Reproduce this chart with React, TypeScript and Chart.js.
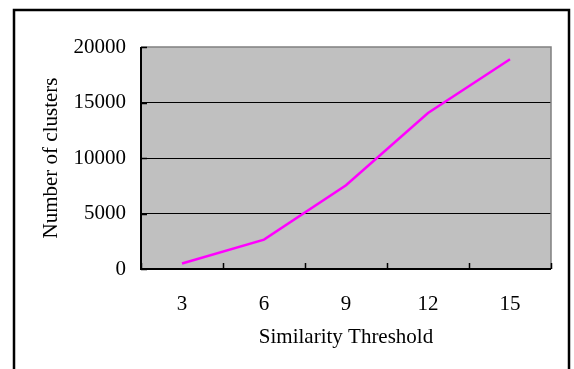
import React, { useEffect, useRef } from "react";
import { Chart, registerables } from "chart.js";

Chart.register(...registerables);

const categories = ["3", "6", "9", "12", "15"];
const clusterCounts = [500, 2650, 7550, 14050, 18900];
const yTicks = [0, 5000, 10000, 15000, 20000];
const xTitle = "Similarity Threshold";
const yTitle = "Number of clusters";

const FONT = "'Liberation Serif', 'Times New Roman', serif";

const framePlugin = {
  id: "frame",
  beforeDraw(chart: any) {
    const { ctx, chartArea: a } = chart;
    ctx.save();
    ctx.fillStyle = "#ffffff";
    ctx.fillRect(0, 0, chart.width, chart.height);
    ctx.fillStyle = "#C0C0C0";
    ctx.fillRect(a.left, a.top, a.right - a.left, a.bottom - a.top);
    ctx.strokeStyle = "#000000";
    ctx.lineWidth = 2.5;
    ctx.strokeRect(14, 10, 555, 400);
    ctx.restore();
  },
  beforeDatasetsDraw(chart: any) {
    const { ctx, chartArea: a, scales } = chart;
    ctx.save();
    ctx.strokeStyle = "#808080";
    ctx.lineWidth = 1.5;
    ctx.beginPath();
    ctx.moveTo(a.left, a.top);
    ctx.lineTo(a.right, a.top);
    ctx.lineTo(a.right, a.bottom);
    ctx.stroke();

    ctx.strokeStyle = "#000000";
    ctx.lineWidth = 2;
    ctx.beginPath();
    ctx.moveTo(a.left, a.top);
    ctx.lineTo(a.left, a.bottom);
    ctx.lineTo(a.right, a.bottom);
    ctx.stroke();

    ctx.lineWidth = 1.5;
    const xs = scales.x;
    ctx.beginPath();
    for (let i = 0; i <= categories.length; i++) {
      const px = Math.round(xs.getPixelForValue(i - 0.5)) + 0.5;
      ctx.moveTo(px, a.bottom);
      ctx.lineTo(px, a.bottom - 6);
    }
    const ys = scales.y;
    for (const v of yTicks) {
      const py = Math.round(ys.getPixelForValue(v)) + 0.5;
      ctx.moveTo(a.left, py);
      ctx.lineTo(a.left + 6, py);
    }
    ctx.stroke();
    ctx.restore();
  },
};

export default function App() {
  const canvasRef = useRef<HTMLCanvasElement | null>(null);

  useEffect(() => {
    if (!canvasRef.current) return;
    const chart = new Chart(canvasRef.current, {
      type: "line",
      data: {
        labels: categories,
        datasets: [
          {
            data: clusterCounts,
            borderColor: "#FF00FF",
            borderWidth: 2.5,
            pointRadius: 0,
            tension: 0,
            fill: false,
          },
        ],
      },
      options: {
        animation: false,
        responsive: false,
        maintainAspectRatio: false,
        layout: { padding: { top: 47, right: 23, left: 0, bottom: 0 } },
        plugins: {
          legend: { display: false },
          tooltip: { enabled: false },
        },
        scales: {
          x: {
            type: "category",
            offset: true,
            grid: { display: false, offset: true },
            border: { display: false },
            ticks: {
              color: "#000",
              font: { family: FONT, size: 21 },
              padding: 15,
              maxRotation: 0,
              autoSkip: false,
            },
            title: {
              display: true,
              text: xTitle,
              color: "#000",
              font: { family: FONT, size: 21 },
              padding: { top: 0, bottom: 19 },
            },
            afterFit(scale: any) {
              scale.height = 100;
            },
          },
          y: {
            min: 0,
            max: 20000,
            border: { display: false },
            grid: {
              drawTicks: false,
              lineWidth: 1,
              color: (c: any) =>
                c.tick && (c.tick.value === 0 || c.tick.value === 20000)
                  ? "rgba(0,0,0,0)"
                  : "#000000",
            },
            afterBuildTicks(scale: any) {
              scale.ticks = yTicks.map((v) => ({ value: v }));
            },
            ticks: {
              color: "#000",
              font: { family: FONT, size: 21 },
              padding: 15,
              callback: (v: any) => String(v),
            },
            title: {
              display: true,
              text: yTitle,
              color: "#000",
              font: { family: FONT, size: 21 },
              padding: { top: 39, bottom: 0 },
            },
            afterFit(scale: any) {
              scale.width = 141;
            },
          },
        },
      },
      plugins: [framePlugin],
    });
    return () => chart.destroy();
  }, []);

  return (
    <div style={{ position: "fixed", left: 0, top: 0, width: 574, height: 369, background: "#fff" }}>
      <canvas ref={canvasRef} width={574} height={369} style={{ display: "block", width: 574, height: 369 }} />
    </div>
  );
}
